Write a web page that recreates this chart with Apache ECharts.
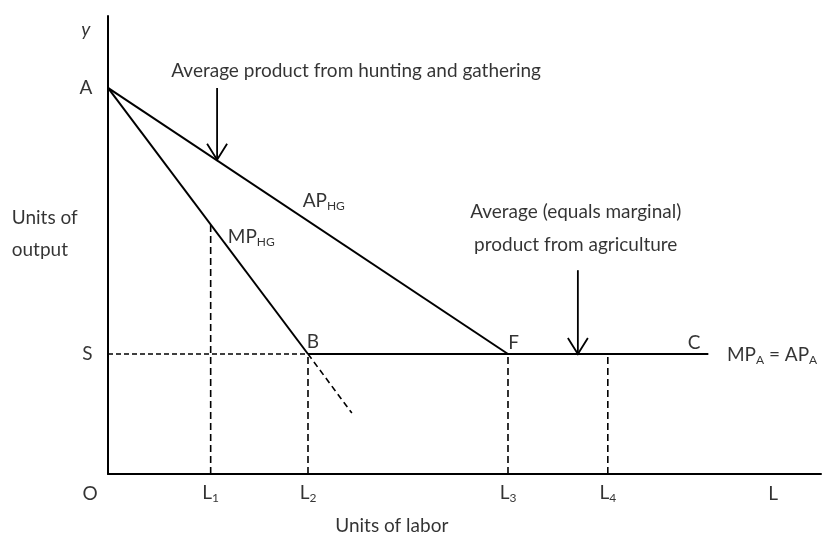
<!DOCTYPE html>
<html>
<head>
<meta charset="utf-8">
<script src="https://cdn.jsdelivr.net/npm/echarts@6/dist/echarts.min.js"></script>
<style>
  html, body { margin: 0; padding: 0; background: #fff; }
  #chart { width: 827px; height: 534px; }
</style>
</head>
<body>
<div id="chart"></div>
<script>
const pointA = [0, 84.3];
const pointB = [28.05, 26.2];
const pointF = [56.1, 26.2];
const pointC = [84.2, 26.2];
const mpExtEnd = [34.2, 13.3];

const laborNames = ['L1', 'L2', 'L3', 'L4'];
const laborX = [14.4, 28.05, 56.1, 70.1];
const dropTop = [54.4, 26.2, 26.2, 26.2];

// flèches : [x, y départ, y pointe]
const arrows = [[15.3, 84.3, 68.6], [65.9, 44.5, 26.2]];

// textes : [x, y, texte, alignement]
const labels = [
  [-3.1, 96.9, '{i|y}', 'center'],
  [-3.1, 84.3, 'A', 'center'],
  [-2.9, 26.2, 'S', 'center'],
  [-2.5, -4.3, 'O', 'center'],
  [-13.5, 55.9, 'Units of', 'left'],
  [-13.5, 48.9, 'output', 'left'],
  [34.8, 88.0, 'Average product from hunting and gathering', 'center'],
  [27.3, 59.5, '{m|AP}{s|HG}', 'left'],
  [16.8, 51.6, '{m|MP}{s|HG}', 'left'],
  [65.6, 57.2, 'Average (equals marginal)', 'center'],
  [65.6, 50.0, 'product from agriculture', 'center'],
  [28.75, 28.8, 'B', 'center'],
  [56.9, 28.6, 'F', 'center'],
  [82.2, 28.6, 'C', 'center'],
  [86.8, 25.9, '{m|MP}{s|A}{m| = AP}{s|A}', 'left'],
  [93.3, -4.3, 'L', 'center'],
  [39.8, -11.4, 'Units of labor', 'center']
];

const FONT = 'Lato';
const FS = 19;
const black = '#000';

function segment(points, dashed, width) {
  return {
    type: 'line',
    data: points,
    symbol: 'none',
    silent: true,
    clip: false,
    animation: false,
    lineStyle: { color: black, width: width || 2, type: dashed || 'solid' }
  };
}

const series = [];
series.push(segment([pointA, pointF]));
series.push(segment([pointA, pointB]));
series.push(segment([pointB, mpExtEnd], [6, 4], 1.6));
series.push(segment([pointB, pointC]));
series.push(segment([[0, pointB[1]], pointB], [5, 3], 1.6));
laborX.forEach((x, i) => {
  series.push(segment([[x, 0], [x, dropTop[i]]], [7, 4], 1.6));
});

// flèches avec pointe ouverte
series.push({
  type: 'custom',
  data: arrows,
  silent: true,
  clip: false,
  animation: false,
  renderItem: function (params, api) {
    const p0 = api.coord([api.value(0), api.value(1)]);
    const p1 = api.coord([api.value(0), api.value(2)]);
    const style = { stroke: black, lineWidth: 1.8, fill: null };
    return {
      type: 'group',
      children: [
        { type: 'line', shape: { x1: p0[0], y1: p0[1], x2: p1[0], y2: p1[1] }, style: style },
        { type: 'polyline', shape: { points: [[p1[0] - 10, p1[1] - 16], [p1[0], p1[1]], [p1[0] + 10, p1[1] - 16]] }, style: style }
      ]
    };
  }
});

const rich = {
  m: { fontFamily: FONT, fontSize: FS, color: black, verticalAlign: 'bottom', padding: [0, 0, 2, 0] },
  s: { fontFamily: FONT, fontSize: 12, color: black, verticalAlign: 'bottom' },
  i: { fontFamily: FONT, fontSize: FS, color: black, fontStyle: 'italic' }
};

const textData = labels.map(l => ({
  value: [l[0], l[1]],
  label: { formatter: l[2], align: l[3] }
}));
laborNames.forEach((n, i) => {
  textData.push({ value: [laborX[i], -4.3], label: { formatter: '{m|L}{s|' + n.slice(1) + '}', align: 'center' } });
});

series.push({
  type: 'scatter',
  data: textData,
  symbolSize: 0,
  silent: true,
  clip: false,
  animation: false,
  label: {
    show: true,
    position: [0, 0],
    verticalAlign: 'middle',
    fontFamily: FONT,
    fontSize: FS,
    color: black,
    rich: rich
  }
});

const chart = echarts.init(document.getElementById('chart'));
chart.setOption({
  backgroundColor: '#fff',
  animation: false,
  grid: { left: 108, right: 6, top: 16, bottom: 60 },
  xAxis: {
    type: 'value', min: 0, max: 100,
    axisLine: { show: true, onZero: false, lineStyle: { color: black, width: 2 } },
    axisTick: { show: false }, axisLabel: { show: false }, splitLine: { show: false }
  },
  yAxis: {
    type: 'value', min: 0, max: 100,
    axisLine: { show: true, onZero: false, lineStyle: { color: black, width: 2 } },
    axisTick: { show: false }, axisLabel: { show: false }, splitLine: { show: false }
  },
  series: series
});
</script>
</body>
</html>
